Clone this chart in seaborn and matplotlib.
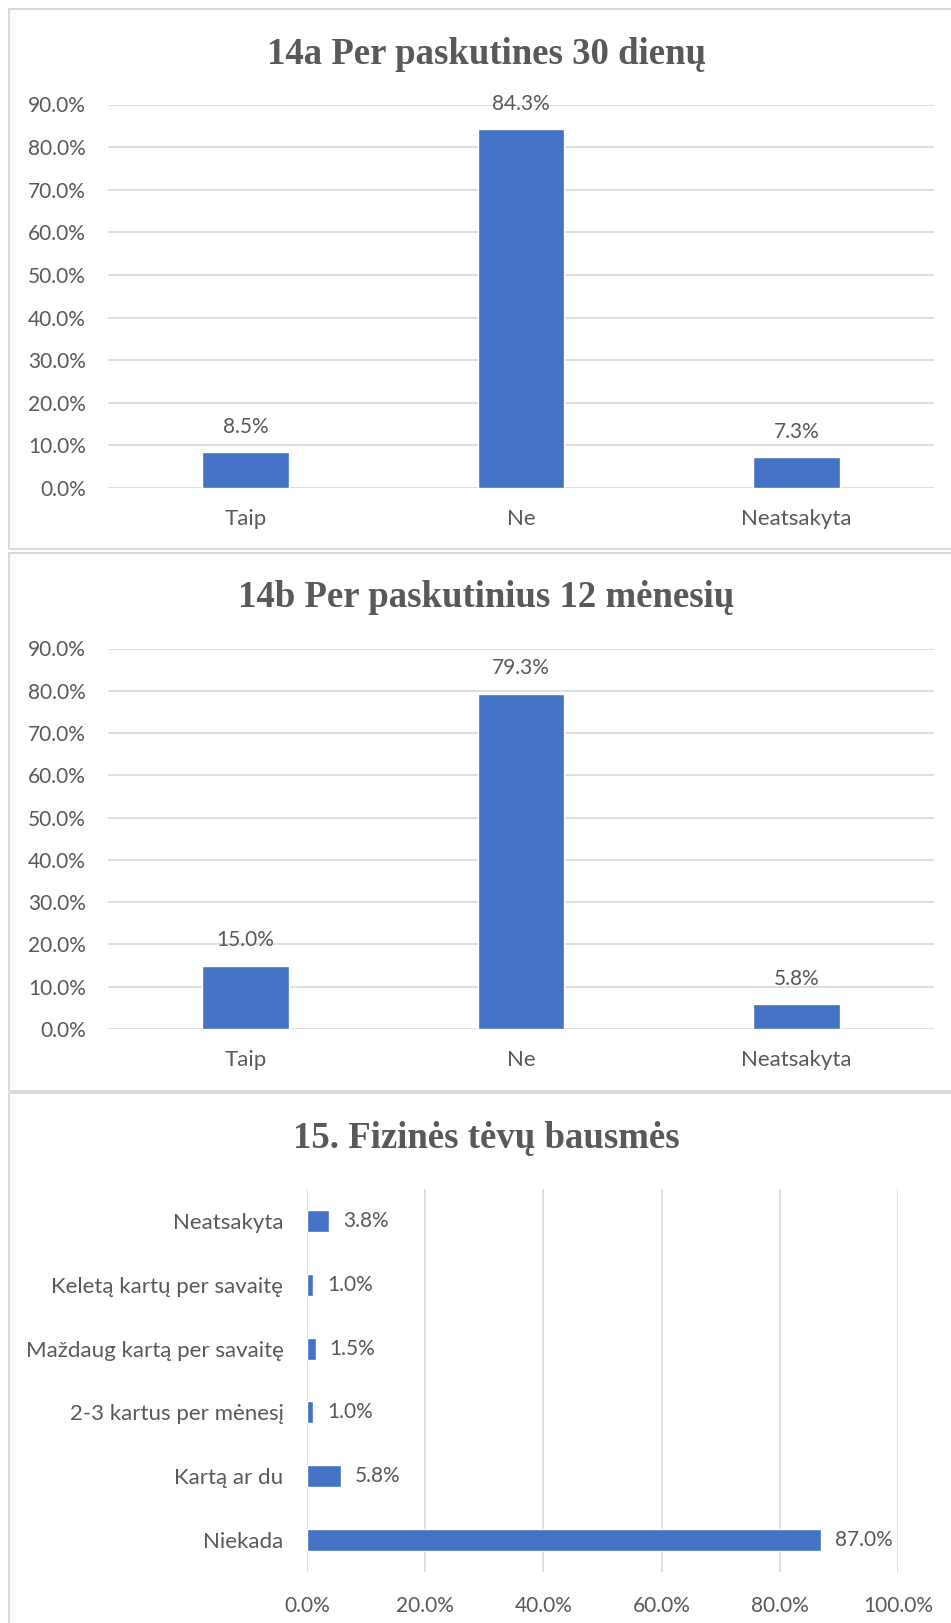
import matplotlib
matplotlib.use("Agg")
import matplotlib.pyplot as plt
from matplotlib.patches import Rectangle
from matplotlib.ticker import PercentFormatter
import seaborn as sns
import pandas as pd

# --- data (percent) ---
CAT_14 = ["Taip", "Ne", "Neatsakyta"]
VAL_14A = [8.5, 84.3, 7.3]
VAL_14B = [15.0, 79.3, 5.8]

CAT_15 = [
    "Neatsakyta",
    "Keletą kartų per savaitę",
    "Maždaug kartą per savaitę",
    "2-3 kartus per mėnesį",
    "Kartą ar du",
    "Niekada",
]
VAL_15 = [3.8, 1.0, 1.5, 1.0, 5.8, 87.0]

TITLES = [
    "14a Per paskutines 30 dienų",
    "14b Per paskutinius 12 mėnesių",
    "15. Fizinės tėvų bausmės",
]

BLUE = "#4472C4"
GRID = "#d9d9d9"
TXT = "#595959"
W, H = 951, 1623

sns.set_theme(style="white")
plt.rcParams["font.family"] = ["Lato", "DejaVu Sans"]
plt.rcParams["text.color"] = TXT
plt.rcParams["xtick.color"] = TXT
plt.rcParams["ytick.color"] = TXT

fig = plt.figure(figsize=(W / 100, H / 100), dpi=100)
fig.patch.set_facecolor("white")


def px_axes(left, top, right, bottom):
    """axes from pixel box (top-left origin)"""
    return fig.add_axes([left / W, 1 - bottom / H, (right - left) / W, (bottom - top) / H])


def panel_border(top, bottom):
    fig.add_artist(Rectangle(
        (8.5 / W, 1 - bottom / H), (W + 20) / W, (bottom - top) / H,
        transform=fig.transFigure, fill=False, edgecolor=GRID, linewidth=1.5
    ))


def title(text, baseline):
    fig.text(486 / W, 1 - baseline / H, text, ha="center", va="baseline",
             fontsize=26.5, fontweight="bold", color=TXT,
             family=["Liberation Serif", "DejaVu Serif"])


def column_panel(values, top, bottom):
    ax = px_axes(108, top, 934, bottom)
    df = pd.DataFrame({"cat": CAT_14, "val": values})
    sns.barplot(data=df, x="cat", y="val", color=BLUE, width=0.314,
                saturation=1, ax=ax)
    ax.set_ylim(0, 90)
    ax.set_yticks(range(0, 91, 10))
    ax.yaxis.set_major_formatter(PercentFormatter(xmax=100, decimals=1))
    ax.grid(axis="y", color=GRID, linewidth=1.2)
    ax.set_axisbelow(True)
    sns.despine(ax=ax, left=True, bottom=True)
    ax.tick_params(axis="y", length=0, pad=16, labelsize=15)
    ax.tick_params(axis="x", length=0, pad=15, labelsize=16)
    ax.set_xlabel("")
    ax.set_ylabel("")
    ax.bar_label(ax.containers[0], fmt="%.1f%%", padding=11, fontsize=15, color=TXT)
    return ax


panel_border(8.5, 549)
panel_border(553, 1091)
panel_border(1092.5, H + 20)

title(TITLES[0], 63.5)
column_panel(VAL_14A, 104.5, 488)

title(TITLES[1], 607.5)
column_panel(VAL_14B, 648.5, 1029)

title(TITLES[2], 1147.5)
ax3 = px_axes(307, 1189, 898, 1572)
df15 = pd.DataFrame({"cat": CAT_15, "val": VAL_15})
sns.barplot(data=df15, y="cat", x="val", color=BLUE, width=0.345,
            saturation=1, orient="h", ax=ax3)
ax3.set_xlim(0, 100)
ax3.set_ylim(5.5, -0.5)
ax3.set_xticks(range(0, 101, 20))
ax3.xaxis.set_major_formatter(PercentFormatter(xmax=100, decimals=1))
ax3.grid(axis="x", color=GRID, linewidth=1.2)
ax3.set_axisbelow(True)
sns.despine(ax=ax3, left=True, bottom=True)
ax3.tick_params(axis="y", length=0, pad=17, labelsize=16)
ax3.tick_params(axis="x", length=0, pad=17, labelsize=15)
ax3.set_xlabel("")
ax3.set_ylabel("")
ax3.bar_label(ax3.containers[0], fmt="%.1f%%", padding=10, fontsize=15, color=TXT)

fig.savefig("out.png", dpi=100)
